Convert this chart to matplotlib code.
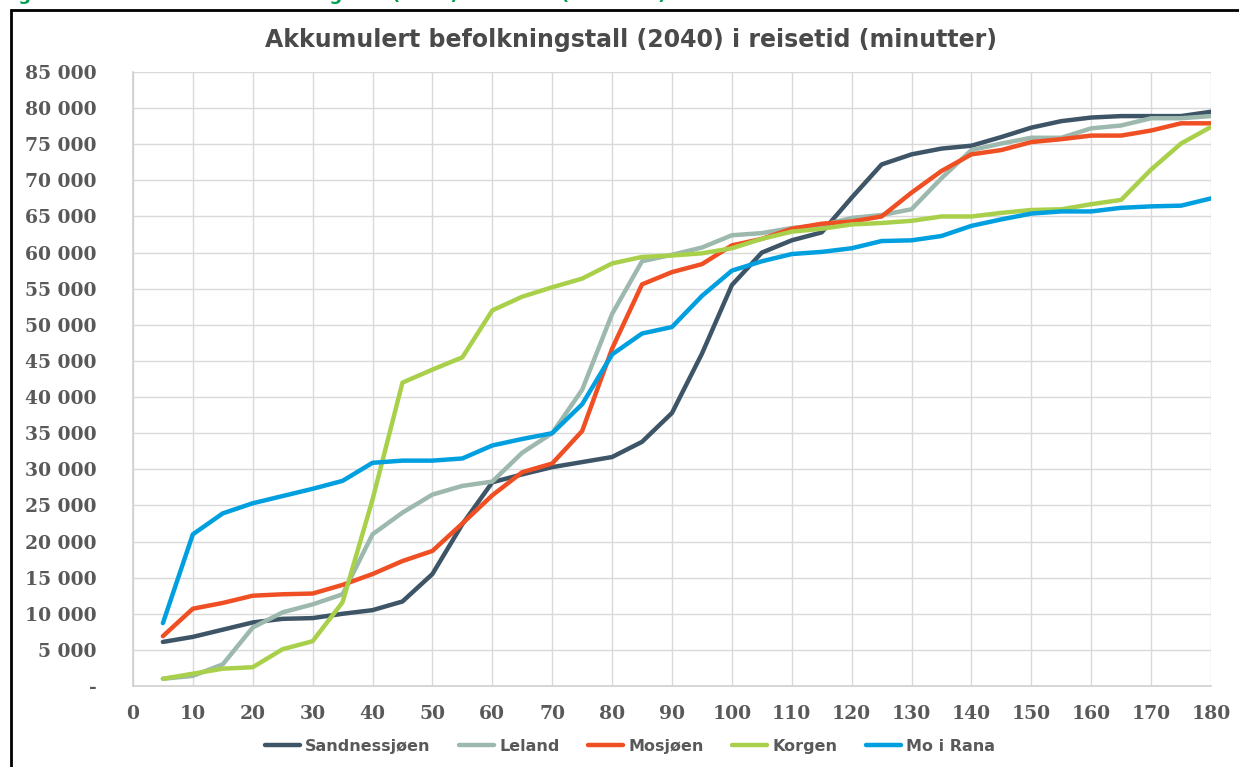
import matplotlib
matplotlib.use('Agg')
import matplotlib.pyplot as plt
import matplotlib.patches as mpatches
from matplotlib.ticker import FuncFormatter, MultipleLocator

# travel time in minutes
minutes = list(range(5, 181, 5))

sandnessjoen = [6100, 6800, 7800, 8800, 9300, 9400, 10000, 10500, 11700, 15500,
                22400, 28200, 29300, 30300, 31000, 31700, 33800, 37800, 46000, 55500,
                60000, 61700, 62800, 67600, 72200, 73600, 74400, 74800, 76000, 77300,
                78200, 78700, 78900, 78900, 78900, 79500]
leland = [1000, 1400, 3000, 8100, 10200, 11300, 12700, 21000, 24000, 26500,
          27700, 28300, 32300, 35000, 41000, 51500, 58800, 59700, 60700, 62400,
          62700, 63400, 63800, 64800, 65200, 66000, 70300, 74200, 75100, 75900,
          75900, 77200, 77600, 78600, 78600, 78900]
mosjoen = [6900, 10700, 11500, 12500, 12700, 12800, 14000, 15500, 17300, 18700,
           22500, 26400, 29600, 30800, 35300, 46700, 55600, 57300, 58400, 61000,
           61900, 63300, 64000, 64300, 65000, 68300, 71300, 73600, 74200, 75300,
           75700, 76200, 76200, 76900, 77900, 77900]
korgen = [1000, 1700, 2400, 2600, 5100, 6200, 11600, 25800, 42000, 43800,
          45500, 52000, 53900, 55200, 56400, 58500, 59400, 59600, 59900, 60600,
          61900, 62900, 63300, 63900, 64100, 64400, 65000, 65000, 65500, 65900,
          66000, 66700, 67300, 71500, 75100, 77400]
mo_i_rana = [8700, 21000, 23900, 25300, 26300, 27300, 28400, 30900, 31200, 31200,
             31500, 33300, 34200, 35000, 39000, 45900, 48800, 49700, 54000, 57500,
             58800, 59800, 60100, 60600, 61600, 61700, 62300, 63700, 64600, 65400,
             65700, 65700, 66200, 66400, 66500, 67500]

series = [
    ('Sandnessjøen', sandnessjoen, '#3d5566'),
    ('Leland', leland, '#9db9ad'),
    ('Mosjøen', mosjoen, '#f04e23'),
    ('Korgen', korgen, '#a9d04b'),
    ('Mo i Rana', mo_i_rana, '#009fdf'),
]

label_color = '#595959'

fig = plt.figure(figsize=(12.39, 7.67), dpi=100)
ax = fig.add_axes([0.1073, 0.1056, 0.8701, 0.8005])

for name, vals, col in series:
    ax.plot(minutes, vals, color=col, lw=3.2, label=name, solid_capstyle='round')

ax.set_xlim(0, 180)
ax.set_ylim(0, 85000)
ax.xaxis.set_major_locator(MultipleLocator(10))
ax.yaxis.set_major_locator(MultipleLocator(5000))
ax.yaxis.set_major_formatter(FuncFormatter(
    lambda v, p: '-' if v == 0 else f'{int(v):,}'.replace(',', ' ')))

ax.grid(True, color='#d9d9d9', lw=1)
ax.set_axisbelow(True)
for s in ['top', 'right']:
    ax.spines[s].set_visible(False)
for s in ['left', 'bottom']:
    ax.spines[s].set_color('#d0d0d0')
    ax.spines[s].set_linewidth(1.2)
ax.tick_params(length=0, colors=label_color)
for t in ax.get_xticklabels() + ax.get_yticklabels():
    t.set_fontfamily('DejaVu Serif')
    t.set_fontweight('bold')
    t.set_fontsize(13.5)
ax.tick_params(axis='y', pad=26)
ax.tick_params(axis='x', pad=14)

# chart title, centred on the frame rather than on the axes
fig.text(631 / 1239, 1 - 40 / 767, 'Akkumulert befolkningstall (2040) i reisetid (minutter)',
         fontsize=17, fontweight='bold', color='#4a4a4a', ha='center', va='center')

leg = ax.legend(loc='center', bbox_to_anchor=(0.461, -0.098), ncol=5,
                frameon=False, handlelength=2.2, handletextpad=0.3,
                columnspacing=1.8, prop={'family': 'DejaVu Sans', 'weight': 'bold', 'size': 11.5})
for t in leg.get_texts():
    t.set_color(label_color)

# outer frame of the figure box (cut off at right/bottom)
fig.patches.append(mpatches.Rectangle((0.0085, -0.1), 1.2, 1.0868,
                                      transform=fig.transFigure, fill=False,
                                      edgecolor='black', lw=2))

# caption above the frame, cut off at the top edge as in the source
fig.text(0.0, 1.006, 'Figur 3-10 Akkumulert befolkningstall (2040) i reisetid (minutter) innenfor ca. 3 t reisetid',
         fontsize=13, fontweight='bold', color='#00a050', va='center', ha='left')

fig.savefig('out.png', dpi=100)
